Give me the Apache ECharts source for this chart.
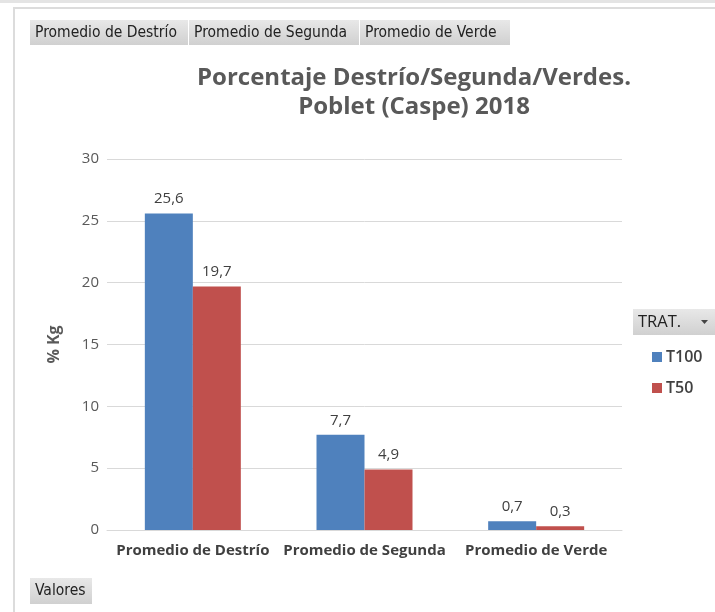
<!DOCTYPE html>
<html>
<head>
<meta charset="utf-8">
<script src="https://cdn.jsdelivr.net/npm/echarts@6/dist/echarts.min.js"></script>
<style>
  html, body { margin: 0; padding: 0; background: #fff; }
  #chart { width: 715px; height: 612px; }
</style>
</head>
<body>
<div id="chart"></div>
<script>
// Categories and values (% Kg) by treatment
const categories = ['Promedio de Destrío', 'Promedio de Segunda', 'Promedio de Verde'];
const seriesNames = ['T100', 'T50'];
const t100 = [25.6, 7.7, 0.7];
const t50 = [19.7, 4.9, 0.3];
const yTicks = [0, 5, 10, 15, 20, 25, 30];
const fieldButtons = ['Promedio de Destrío', 'Promedio de Segunda', 'Promedio de Verde'];

const textFont = '"Open Sans", "Noto Sans", sans-serif';
const btnFont = '"DejaVu Sans Condensed", "Liberation Sans", sans-serif';

const chart = echarts.init(document.getElementById('chart'), null, { renderer: 'canvas' });

const btnFill = () => new echarts.graphic.LinearGradient(0, 0, 0, 1, [
  { offset: 0, color: '#e8e8e8' }, { offset: 1, color: '#d0d0d0' }]);

// Pivot-style field buttons across the top
const btnX = [30, 189, 360];
const btnW = [158, 170, 150];
const buttonGraphics = fieldButtons.map((t, i) => ({
  type: 'group',
  left: btnX[i], top: 20,
  children: [
    { type: 'rect', shape: { x: 0, y: 0, width: btnW[i], height: 25 }, style: { fill: btnFill() } },
    { type: 'text', x: 5, y: 12.5,
      style: { text: t, fill: '#222', font: '15.5px ' + btnFont, verticalAlign: 'middle' } }
  ]
}));

const fmt = v => String(v.value !== undefined ? v.value : v).replace('.', ',');

chart.setOption({
  animation: false,
  backgroundColor: '#fff',
  color: ['#4f81bd', '#c0504d'],
  title: {
    text: 'Porcentaje Destrío/Segunda/Verdes.\nPoblet (Caspe) 2018',
    left: 409, top: 59, textAlign: 'center',
    textStyle: { fontFamily: textFont, fontSize: 24, fontWeight: 'bold', color: '#595959', lineHeight: 29 }
  },
  legend: {
    data: seriesNames,
    orient: 'vertical',
    left: 647, top: 344,
    itemWidth: 10, itemHeight: 10, itemGap: 15,
    icon: 'rect',
    textStyle: { fontFamily: textFont, fontSize: 16, fontWeight: 600, color: '#404040', padding: [0, 0, 0, -1] }
  },
  grid: { left: 107, right: 93, top: 159, bottom: 82, containLabel: false },
  xAxis: {
    type: 'category',
    data: categories,
    axisLine: { lineStyle: { color: '#d9d9d9', width: 1 } },
    axisTick: { show: false },
    axisLabel: { fontFamily: textFont, fontSize: 15, fontWeight: 'bold', color: '#404040', margin: 13, interval: 0 }
  },
  yAxis: {
    type: 'value',
    min: 0, max: 30, interval: 5,
    name: '% Kg',
    nameLocation: 'middle',
    nameGap: 45,
    nameRotate: 90,
    nameTextStyle: { fontFamily: textFont, fontSize: 16, fontWeight: 'bold', color: '#595959' },
    axisLine: { show: false },
    axisTick: { show: false },
    axisLabel: {
      fontFamily: textFont, fontSize: 15, color: '#595959', margin: 8,
      formatter: v => yTicks.includes(v) ? String(v) : ''
    },
    splitLine: { lineStyle: { color: '#d9d9d9', width: 1 } }
  },
  series: [
    { name: seriesNames[0], type: 'bar', data: t100, barWidth: 48, barGap: '0%',
      label: { show: true, position: 'top', distance: 7, formatter: fmt,
        fontFamily: textFont, fontSize: 15, color: '#404040' } },
    { name: seriesNames[1], type: 'bar', data: t50, barWidth: 48,
      label: { show: true, position: 'top', distance: 7, formatter: fmt,
        fontFamily: textFont, fontSize: 15, color: '#404040' } }
  ],
  graphic: [
    // window strip and frame
    { type: 'rect', shape: { x: 0, y: 0, width: 715, height: 3 }, style: { fill: '#e4e4e4' }, silent: true },
    { type: 'rect', shape: { x: 14, y: 8, width: 720, height: 620 },
      style: { fill: 'none', stroke: '#dcdcdc', lineWidth: 2 }, silent: true },
    ...buttonGraphics,
    // legend field button
    { type: 'group', left: 633, top: 309, children: [
      { type: 'rect', shape: { x: 0, y: 0, width: 82, height: 26 }, style: { fill: btnFill() } },
      { type: 'text', x: 5, y: 13,
        style: { text: 'TRAT.', fill: '#222', font: '16.5px ' + textFont, verticalAlign: 'middle' } },
      { type: 'polygon', shape: { points: [[68, 11], [75, 11], [71.5, 15]] }, style: { fill: '#444' } }
    ]},
    // values field button
    { type: 'group', left: 30, top: 578, children: [
      { type: 'rect', shape: { x: 0, y: 0, width: 62, height: 26 }, style: { fill: btnFill() } },
      { type: 'text', x: 5, y: 13,
        style: { text: 'Valores', fill: '#222', font: '15.5px ' + btnFont, verticalAlign: 'middle' } }
    ]}
  ]
});
</script>
</body>
</html>
